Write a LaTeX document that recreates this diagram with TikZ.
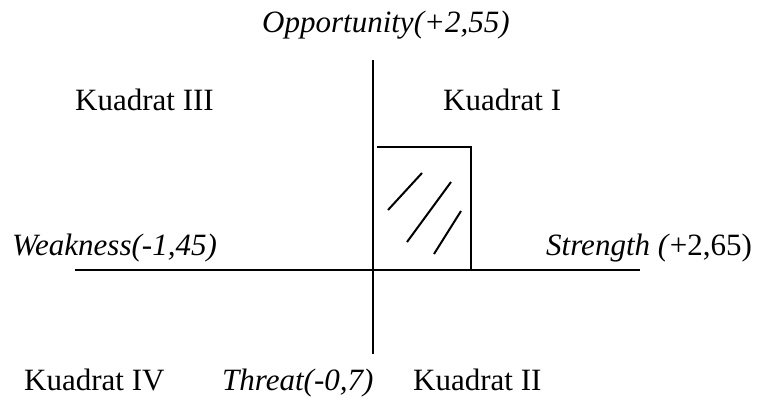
\documentclass[tikz,border=0pt]{standalone}
\usepackage{fontspec}
\setmainfont{Liberation Serif}
\begin{document}
\begin{tikzpicture}[x=1pt,y=-1pt,
  lbl/.style={inner sep=0pt,anchor=base west,font=\fontsize{31}{37}\selectfont},
  axis/.style={line width=2pt,black},
  hatch/.style={line width=2pt,black}]
\useasboundingbox (0,0) rectangle (765,410);
% axes
\coordinate (vtop) at (373,60);
\coordinate (vbot) at (373,354);
\coordinate (hleft) at (75,270);
\coordinate (hright) at (640,270);
\draw[axis] (vtop) -- (vbot);
\draw[axis] (hleft) -- (hright);
% box
\coordinate (b1) at (377,147);
\coordinate (b2) at (471,147);
\coordinate (b3) at (471,270);
\draw[axis] (b1) -- (b2) -- (b3);
% hatch lines
\coordinate (h1a) at (388,210); \coordinate (h1b) at (422,173);
\coordinate (h2a) at (407,242); \coordinate (h2b) at (451,182);
\coordinate (h3a) at (434,254); \coordinate (h3b) at (461,211);
\draw[hatch] (h1a) -- (h1b);
\draw[hatch] (h2a) -- (h2b);
\draw[hatch] (h3a) -- (h3b);
% labels
\node[lbl] (opp) at (262,32) {\textit{Opportunity(+2,55)}};
\node[lbl] (k3) at (75,110) {Kuadrat III};
\node[lbl] (k1) at (443,110) {Kuadrat I};
\node[lbl] (weak) at (12,255) {\textit{Weakness(-1,45)}};
\node[lbl] (str) at (546,255) {\textit{Strength (}+2,65)};
\node[lbl] (k4) at (24,390) {Kuadrat IV};
\node[lbl] (thr) at (222,390) {\textit{Threat(-0,7)}};
\node[lbl] (k2) at (413,390) {Kuadrat II};
\end{tikzpicture}
\end{document}
